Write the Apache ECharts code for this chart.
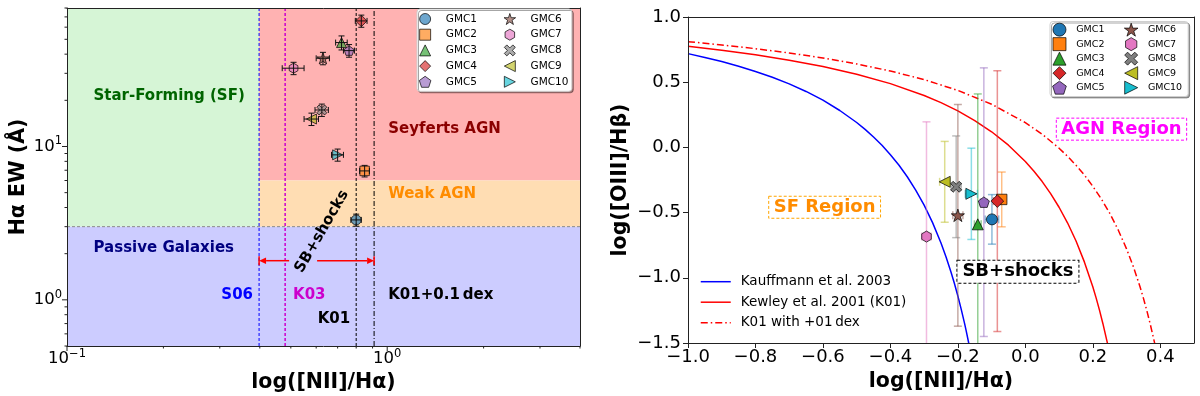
<!DOCTYPE html>
<html>
<head>
<meta charset="utf-8">
<script src="https://cdn.jsdelivr.net/npm/echarts@6.0.0/dist/echarts.min.js"></script>
<style>
html,body{margin:0;padding:0;background:#ffffff;}
#chart{width:1200px;height:396px;}
</style>
</head>
<body>
<div id="chart"></div>
<script>
// ================= DATA =================
const gmcNames = ['GMC1','GMC2','GMC3','GMC4','GMC5','GMC6','GMC7','GMC8','GMC9','GMC10'];

// Left panel (WHAN): [NII]/Ha ratio and Ha EW (Angstrom)
const niiHaRatio    = [0.80, 0.85, 0.72, 0.83, 0.76, 0.63, 0.51, 0.625, 0.58, 0.70];
const niiHaRatioErr = [0.03, 0.03, 0.03, 0.035, 0.03, 0.03, 0.04, 0.03, 0.03, 0.03];
const haEW          = [3.32, 6.93, 47.6, 65.9, 42.2, 37.6, 32.4, 17.3, 15.1, 8.82];
const haEWErr       = [0.30, 0.60, 5.0, 6.0, 4.0, 3.5, 3.0, 1.6, 1.4, 0.8];

// Right panel (BPT)
const logNiiHa     = [-0.099, -0.070, -0.141, -0.083, -0.123, -0.200, -0.293, -0.205, -0.239, -0.160];
const logNiiHaErr  = [0.020, 0.012, 0.010, 0.012, 0.010, 0.015, 0.014, 0.015, 0.015, 0.018];
const logOiiiHb    = [-0.552, -0.399, -0.590, -0.412, -0.420, -0.521, -0.684, -0.302, -0.264, -0.356];
const logOiiiHbErr = [0.19, 0.21, 1.00, 1.00, 1.03, 0.85, 0.88, 0.39, 0.31, 0.35];

// Demarcation curves (right panel)
const curveNames = ['Kauffmann et al. 2003', 'Kewley et al. 2001 (K01)', 'K01 with +01\u2009dex'];
const kauffmannX = [-1.0,-0.95,-0.9,-0.85,-0.8,-0.75,-0.7,-0.65,-0.6,-0.55,-0.5,-0.475,-0.45,-0.425,-0.4,-0.375,-0.35,-0.325,-0.3,-0.275,-0.25,-0.235,-0.22,-0.21,-0.2,-0.19,-0.18,-0.175,-0.168,-0.16];
const kauffmannY = [0.719,0.690,0.658,0.622,0.582,0.538,0.487,0.429,0.362,0.283,0.191,0.138,0.080,0.016,-0.056,-0.135,-0.225,-0.327,-0.443,-0.577,-0.733,-0.840,-0.959,-1.046,-1.140,-1.242,-1.352,-1.411,-1.498,-1.605];
const kewleyX = [-1.0,-0.9,-0.8,-0.7,-0.6,-0.5,-0.4,-0.3,-0.25,-0.2,-0.15,-0.1,-0.05,0.0,0.025,0.05,0.075,0.1,0.125,0.15,0.175,0.2,0.21,0.22,0.23,0.243,0.25];
const kewleyY = [0.775,0.745,0.710,0.669,0.620,0.561,0.489,0.398,0.343,0.280,0.206,0.120,0.017,-0.108,-0.181,-0.262,-0.354,-0.459,-0.578,-0.716,-0.878,-1.069,-1.156,-1.250,-1.352,-1.497,-1.583];
const kewleyDexX = [-1.0,-0.9,-0.8,-0.7,-0.6,-0.5,-0.4,-0.3,-0.2,-0.1,0.0,0.05,0.1,0.125,0.15,0.175,0.2,0.225,0.25,0.275,0.3,0.32,0.34,0.35,0.36,0.37,0.383,0.39];
const kewleyDexY = [0.811,0.786,0.757,0.724,0.686,0.640,0.586,0.520,0.437,0.331,0.190,0.101,-0.006,-0.068,-0.136,-0.212,-0.298,-0.394,-0.504,-0.631,-0.778,-0.913,-1.069,-1.156,-1.250,-1.352,-1.497,-1.583];

// WHAN boundaries (left panel): S06, K03, K01, K01+0.1dex in [NII]/Ha; EW cuts
const whanLineNii = [0.398, 0.48, 0.80, 0.91];
const whanEWCuts  = [3, 6];
const arrowStartNii = [0.494, 0.604];
const arrowEW = 1.8;

// Axis ranges and ticks
const leftXRange  = [0.1, 4];
const leftYRange  = [0.5, 80];
const rightXRange = [-1.0, 0.5];
const rightYRange = [-1.5, 1.0];
const leftXMajor = [0.1, 1];
const leftXMinor = [0.2,0.3,0.4,0.5,0.6,0.7,0.8,0.9,2,3,4];
const leftYMajor = [1, 10];
const leftYMinor = [0.5,0.6,0.7,0.8,0.9,2,3,4,5,6,7,8,9,20,30,40,50,60,70,80];
const rightXTicks = [-1.0,-0.8,-0.6,-0.4,-0.2,0.0,0.2,0.4];

// ================= STYLE =================
const FONT = 'DejaVu Sans';
const colors = ['#1f77b4','#ff7f0e','#2ca02c','#d62728','#9467bd','#8c564b','#e377c2','#7f7f7f','#bcbd22','#17becf'];
const SYM = [
  'path://M0,-1A1,1,0,1,1,0,1A1,1,0,1,1,0,-1Z',
  'path://M-1,-1L1,-1L1,1L-1,1Z',
  'path://M0,-1L1,1L-1,1Z',
  'path://M0,-1L1,0L0,1L-1,0Z',
  'path://M0,-1L0.951,-0.309L0.588,0.809L-0.588,0.809L-0.951,-0.309Z',
  'path://M0,-1L0.2245,-0.309L0.951,-0.309L0.363,0.118L0.588,0.809L0,0.382L-0.588,0.809L-0.363,0.118L-0.951,-0.309L-0.2245,-0.309Z',
  'path://M0,-1L0.866,-0.5L0.866,0.5L0,1L-0.866,0.5L-0.866,-0.5Z',
  'path://M-1,-0.55L-0.55,-1L0,-0.45L0.55,-1L1,-0.55L0.45,0L1,0.55L0.55,1L0,0.45L-0.55,1L-1,0.55L-0.45,0Z',
  'path://M-1,0L1,-1L1,1Z',
  'path://M1,0L-1,-1L-1,1Z'
];
const symScale = [1, 0.95, 1, 1.15, 1, 1.2, 1, 1, 1, 1];
const regionColors = ['#d6f5d6', '#ffb2b2', '#ffddb3', '#ccccff'];
const refLineStyles = [
  {stroke:'#0000ff', lineWidth:1, lineDash:[3,2]},
  {stroke:'#cc00cc', lineWidth:1.5, lineDash:[3,2]},
  {stroke:'#000000', lineWidth:1, lineDash:[3,2]},
  {stroke:'#000000', lineWidth:1, lineDash:[5,2,1,2]},
  {stroke:'#8a8a8a', lineWidth:1, lineDash:[3,2]}
];
function rgba(hex, a){ const n = parseInt(hex.slice(1),16); return 'rgba('+((n>>16)&255)+','+((n>>8)&255)+','+(n&255)+','+a+')'; }
function powLabel(v){
  const e = Math.log10(v); const n = Math.round(e);
  if (Math.abs(e-n) > 1e-6) return '';
  return '{b|10}{s|' + (n < 0 ? '\u2212' + (-n) : String(n)) + '}';
}
const powRich = {
  b:{fontFamily:FONT, fontSize:16.5, lineHeight:22, color:'#000'},
  s:{fontFamily:FONT, fontSize:11.5, lineHeight:11, verticalAlign:'top', color:'#000'}
};
function decLabel(v){ const s = Math.abs(v).toFixed(1); return (v < -1e-9 ? '\u2212' : '') + s; }
const axisLine = {show:true, onZero:false, lineStyle:{color:'#222', width:1}};
const nameStyle = {fontFamily:FONT, fontSize:20.5, fontWeight:'bold', color:'#000'};

// ================= AXES =================
const xAxis = [
  {type:'log', logBase:10, gridIndex:0, min:leftXRange[0], max:leftXRange[1], position:'bottom', z:10,
   name:'log([NII]/H\u03b1)', nameLocation:'middle', nameGap:24, nameTextStyle:nameStyle,
   axisLine:axisLine, axisTick:{show:false}, splitLine:{show:false}, minorTick:{show:false},
   axisLabel:{margin:2, formatter:powLabel, rich:powRich}},
  {type:'log', logBase:10, gridIndex:0, min:leftXRange[0], max:leftXRange[1], position:'top', z:10,
   axisLine:axisLine, axisTick:{show:false}, axisLabel:{show:false}, splitLine:{show:false}},
  {type:'value', gridIndex:1, min:rightXRange[0], max:rightXRange[1], interval:0.2, position:'bottom', z:10,
   name:'log([NII]/H\u03b1)', nameLocation:'middle', nameGap:26, nameTextStyle:nameStyle,
   axisLine:axisLine, splitLine:{show:false},
   axisTick:{show:true, length:5, customValues:rightXTicks, lineStyle:{color:'#222'}},
   axisLabel:{margin:5, customValues:rightXTicks, formatter:decLabel, fontFamily:FONT, fontSize:18, color:'#000'}},
  {type:'value', gridIndex:1, min:rightXRange[0], max:rightXRange[1], position:'top', z:10,
   axisLine:axisLine, axisTick:{show:false}, axisLabel:{show:false}, splitLine:{show:false}}
];
const yAxis = [
  {type:'log', logBase:10, gridIndex:0, min:leftYRange[0], max:leftYRange[1], position:'left', z:10,
   name:'H\u03b1 EW (\u00c5)', nameLocation:'middle', nameGap:38, nameTextStyle:nameStyle,
   axisLine:axisLine, axisTick:{show:false}, splitLine:{show:false}, minorTick:{show:false},
   axisLabel:{margin:5, formatter:powLabel, rich:powRich}},
  {type:'log', logBase:10, gridIndex:0, min:leftYRange[0], max:leftYRange[1], position:'right', z:10,
   axisLine:axisLine, axisTick:{show:false}, axisLabel:{show:false}, splitLine:{show:false}},
  {type:'value', gridIndex:1, min:rightYRange[0], max:rightYRange[1], interval:0.5, position:'left', z:10,
   name:'log([OIII]/H\u03b2)', nameLocation:'middle', nameGap:57, nameTextStyle:nameStyle,
   axisLine:axisLine, splitLine:{show:false},
   axisTick:{show:true, length:5, lineStyle:{color:'#222'}},
   axisLabel:{margin:7, formatter:decLabel, fontFamily:FONT, fontSize:18, color:'#000'}},
  {type:'value', gridIndex:1, min:rightYRange[0], max:rightYRange[1], position:'right', z:10,
   axisLine:axisLine, axisTick:{show:false}, axisLabel:{show:false}, splitLine:{show:false}}
];

// ================= SERIES =================
const series = [];

// --- Left: region fills ---
const regionBounds = [
  [leftXRange[0], whanLineNii[0], whanEWCuts[0], leftYRange[1]],
  [whanLineNii[0], leftXRange[1], whanEWCuts[1], leftYRange[1]],
  [whanLineNii[0], leftXRange[1], whanEWCuts[0], whanEWCuts[1]],
  [leftXRange[0], leftXRange[1], leftYRange[0], whanEWCuts[0]]
];
series.push({type:'custom', xAxisIndex:0, yAxisIndex:0, z:1, silent:true, clip:false,
  encode:{x:[0,1], y:[2,3]}, data:regionBounds,
  renderItem:function(params, api){
    const a = api.coord([api.value(0), api.value(3)]);
    const b = api.coord([api.value(1), api.value(2)]);
    return {type:'rect', shape:{x:a[0], y:a[1], width:b[0]-a[0], height:b[1]-a[1]}, style:{fill:regionColors[params.dataIndex]}};
  }});

// --- Left: reference lines ---
const refLines = whanLineNii.map(function(x){ return [x, leftYRange[0], x, leftYRange[1]]; })
  .concat([[leftXRange[0], whanEWCuts[0], leftXRange[1], whanEWCuts[0]]]);
series.push({type:'custom', xAxisIndex:0, yAxisIndex:0, z:2, silent:true, clip:false,
  encode:{x:[0,2], y:[1,3]}, data:refLines,
  renderItem:function(params, api){
    const a = api.coord([api.value(0), api.value(1)]);
    const b = api.coord([api.value(2), api.value(3)]);
    return {type:'line', shape:{x1:a[0], y1:a[1], x2:b[0], y2:b[1]}, style:refLineStyles[params.dataIndex]};
  }});

// --- Left: arrows ---
series.push({type:'custom', xAxisIndex:0, yAxisIndex:0, z:3, silent:true, clip:false,
  encode:{x:[0,1], y:2},
  data:[[arrowStartNii[0], whanLineNii[0], arrowEW],[arrowStartNii[1], whanLineNii[3], arrowEW]],
  renderItem:function(params, api){
    const p0 = api.coord([api.value(0), api.value(2)]);
    const p1 = api.coord([api.value(1), api.value(2)]);
    const d = p1[0] > p0[0] ? 1 : -1; const L = 7, W = 3.2, y = p1[1];
    const st = {stroke:'#ff0000', lineWidth:1.5};
    return {type:'group', children:[
      {type:'line', shape:{x1:p0[0], y1:y, x2:p1[0]-d*L, y2:y}, style:st},
      {type:'polygon', shape:{points:[[p1[0],y],[p1[0]-d*L,y-W],[p1[0]-d*L,y+W]]}, style:{fill:'#ff0000'}},
      {type:'line', shape:{x1:p1[0], y1:y-4.5, x2:p1[0], y2:y+4.5}, style:st}
    ]};
  }});

// --- Left: markers ---
gmcNames.forEach(function(n, i){
  series.push({type:'scatter', name:'L-'+n, xAxisIndex:0, yAxisIndex:0, z:4, silent:true,
    symbol:SYM[i], symbolSize:10*symScale[i], symbolKeepAspect:true,
    data:[[niiHaRatio[i], haEW[i]]],
    itemStyle:{color:rgba(colors[i],0.65), borderColor:'#000', borderWidth:0.7, opacity:1}});
});

// --- Left: error bars ---
series.push({type:'custom', xAxisIndex:0, yAxisIndex:0, z:5, silent:true, clip:false,
  data:niiHaRatio.map(function(x,i){ return [x, haEW[i], niiHaRatioErr[i], haEWErr[i]]; }),
  renderItem:function(params, api){
    const x = api.value(0), y = api.value(1), ex = api.value(2), ey = api.value(3);
    const t = api.coord([x, y+ey]), b = api.coord([x, y-ey]), l = api.coord([x-ex, y]), r = api.coord([x+ex, y]);
    const c = 3, st = {stroke:'#111', lineWidth:1};
    return {type:'group', children:[
      {type:'line', shape:{x1:t[0],y1:t[1],x2:b[0],y2:b[1]}, style:st},
      {type:'line', shape:{x1:t[0]-c,y1:t[1],x2:t[0]+c,y2:t[1]}, style:st},
      {type:'line', shape:{x1:b[0]-c,y1:b[1],x2:b[0]+c,y2:b[1]}, style:st},
      {type:'line', shape:{x1:l[0],y1:l[1],x2:r[0],y2:r[1]}, style:st},
      {type:'line', shape:{x1:l[0],y1:l[1]-c,x2:l[0],y2:l[1]+c}, style:st},
      {type:'line', shape:{x1:r[0],y1:r[1]-c,x2:r[0],y2:r[1]+c}, style:st}
    ]};
  }});

// --- Left: annotations ---
series.push({type:'scatter', xAxisIndex:0, yAxisIndex:0, z:6, silent:true, symbolSize:1,
  itemStyle:{color:'rgba(0,0,0,0)', opacity:1},
  label:{show:true, position:'inside', fontFamily:FONT, fontSize:15, fontWeight:'bold', opacity:1, textBorderWidth:0},
  data:[
    {value:[0.121, 21.4], label:{formatter:'Star-Forming (SF)', color:'#006400', align:'left'}},
    {value:[1.007, 12.97], label:{formatter:'Seyferts AGN', color:'#8b0000', align:'left'}},
    {value:[1.007, 4.91], label:{formatter:'Weak AGN', color:'#ff8c00', align:'left'}},
    {value:[0.121, 2.17], label:{formatter:'Passive Galaxies', color:'#000080', align:'left'}},
    {value:[0.381, 1.08], label:{formatter:'S06', color:'#0000ff', align:'right'}},
    {value:[0.508, 1.08], label:{formatter:'K03', color:'#cc00cc', align:'left'}},
    {value:[0.766, 0.75], label:{formatter:'K01', color:'#000', align:'right'}},
    {value:[1.007, 1.08], label:{formatter:'K01+0.1\u2009dex', color:'#000', align:'left'}},
    {value:[0.625, 2.79], label:{formatter:'SB+shocks', color:'#000', rotate:60}}
  ]});

// --- Left: log-axis ticks ---
const tickItems = []
  .concat(leftXMajor.map(function(v){ return [v, leftYRange[0], 1, 0]; }))
  .concat(leftXMinor.map(function(v){ return [v, leftYRange[0], 0, 0]; }))
  .concat(leftYMajor.map(function(v){ return [leftXRange[0], v, 1, 1]; }))
  .concat(leftYMinor.map(function(v){ return [leftXRange[0], v, 0, 1]; }));
series.push({type:'custom', xAxisIndex:0, yAxisIndex:0, z:11, silent:true, clip:false,
  data:tickItems,
  renderItem:function(params, api){
    const p = api.coord([api.value(0), api.value(1)]);
    const len = api.value(2) === 1 ? 5 : 2.5;
    const isY = api.value(3) === 1;
    return {type:'line', shape: isY ? {x1:p[0], y1:p[1], x2:p[0]-len, y2:p[1]} : {x1:p[0], y1:p[1], x2:p[0], y2:p[1]+len},
      style:{stroke:'#222', lineWidth:1}};
  }});

// --- Right: demarcation curves ---
const curveData = [
  kauffmannX.map(function(x,i){ return [x, kauffmannY[i]]; }),
  kewleyX.map(function(x,i){ return [x, kewleyY[i]]; }),
  kewleyDexX.map(function(x,i){ return [x, kewleyDexY[i]]; })
];
const curveStyles = [
  {color:'#0000ff', width:1.5, type:'solid'},
  {color:'#ff0000', width:1.5, type:'solid'},
  {color:'#ff0000', width:1.5, type:[7,3,1.5,3]}
];
curveNames.forEach(function(n, i){
  series.push({type:'line', name:n, xAxisIndex:2, yAxisIndex:2, z:2, silent:true, symbol:'none', showSymbol:false,
    data:curveData[i], lineStyle:curveStyles[i], itemStyle:{color:curveStyles[i].color}, clip:true});
});

// --- Right: error bars ---
series.push({type:'custom', xAxisIndex:2, yAxisIndex:2, z:3, silent:true, clip:true,
  data:logNiiHa.map(function(x,i){ return [x, logOiiiHb[i], logNiiHaErr[i], logOiiiHbErr[i]]; }),
  renderItem:function(params, api){
    const x = api.value(0), y = api.value(1), ex = api.value(2), ey = api.value(3);
    const t = api.coord([x, y+ey]), b = api.coord([x, y-ey]), l = api.coord([x-ex, y]), r = api.coord([x+ex, y]);
    const c = 4, st = {stroke:rgba(colors[params.dataIndex],0.5), lineWidth:1.5};
    return {type:'group', children:[
      {type:'line', shape:{x1:t[0],y1:t[1],x2:b[0],y2:b[1]}, style:st},
      {type:'line', shape:{x1:t[0]-c,y1:t[1],x2:t[0]+c,y2:t[1]}, style:st},
      {type:'line', shape:{x1:b[0]-c,y1:b[1],x2:b[0]+c,y2:b[1]}, style:st},
      {type:'line', shape:{x1:l[0],y1:l[1],x2:r[0],y2:r[1]}, style:st},
      {type:'line', shape:{x1:l[0],y1:l[1]-c,x2:l[0],y2:l[1]+c}, style:st},
      {type:'line', shape:{x1:r[0],y1:r[1]-c,x2:r[0],y2:r[1]+c}, style:st}
    ]};
  }});

// --- Right: markers ---
gmcNames.forEach(function(n, i){
  series.push({type:'scatter', name:n, xAxisIndex:2, yAxisIndex:2, z:4, silent:true,
    symbol:SYM[i], symbolSize:11*symScale[i], symbolKeepAspect:true,
    data:[[logNiiHa[i], logOiiiHb[i]]],
    itemStyle:{color:colors[i], borderColor:'#000', borderWidth:0.7, opacity:1}});
});

// --- Right: annotations ---
series.push({type:'scatter', xAxisIndex:2, yAxisIndex:2, z:8, silent:true, symbolSize:1,
  itemStyle:{color:'rgba(0,0,0,0)', opacity:1},
  label:{show:true, position:'inside', fontFamily:FONT, fontSize:18, fontWeight:'bold', opacity:1, textBorderWidth:0,
    padding:[3,5,1,5], borderWidth:1, borderType:[3,2]},
  data:[
    {value:[-0.595, -0.459], label:{formatter:'SF Region', color:'#ff8c00', borderColor:'#ffa500'}},
    {value:[0.285, 0.14], label:{formatter:'AGN Region', color:'#ff00ff', borderColor:'#ff00ff'}},
    {value:[-0.022, -0.953], label:{formatter:'SB+shocks', color:'#000', borderColor:'#000', backgroundColor:'#fff'}}
  ]});

// ================= LEGENDS =================
const legendBox = {backgroundColor:'#fff', borderColor:'#cfcfcf', borderWidth:1, borderRadius:3,
  shadowColor:'rgba(0,0,0,0.35)', shadowBlur:0, shadowOffsetX:1.5, shadowOffsetY:1.5};
const legendIconStyle = {borderColor:'#000', borderWidth:0.7};
const legend = [
  Object.assign({data:gmcNames.slice(0,5).map(function(n){return 'L-'+n;}), orient:'vertical', left:417, top:9,
    padding:[3.5,86,3,2], itemWidth:24, itemHeight:11, itemGap:2.7, selectedMode:false, z:20,
    formatter:function(n){return n.slice(2);}, itemStyle:legendIconStyle,
    textStyle:{fontFamily:FONT, fontSize:10.5, color:'#000', lineHeight:13, padding:[0,0,0,3.7], width:40}}, legendBox),
  {data:gmcNames.slice(5).map(function(n){return 'L-'+n;}), orient:'vertical', left:503.7, top:12.5,
    padding:0, itemWidth:24, itemHeight:11, itemGap:2.7, selectedMode:false, z:21,
    formatter:function(n){return n.slice(2);}, itemStyle:legendIconStyle,
    textStyle:{fontFamily:FONT, fontSize:10.5, color:'#000', lineHeight:13, padding:[0,0,0,3.7], width:40}},
  Object.assign({data:gmcNames.slice(0,5), orient:'vertical', left:1050, top:21.5,
    padding:[1.3,76,2,2.3], itemWidth:22, itemHeight:13, itemGap:0.8, selectedMode:false, z:20,
    itemStyle:legendIconStyle,
    textStyle:{fontFamily:FONT, fontSize:9.5, color:'#000', lineHeight:13, padding:[0,0,0,0.7], width:36}}, legendBox),
  {data:gmcNames.slice(5), orient:'vertical', left:1124, top:22.8,
    padding:0, itemWidth:22, itemHeight:13, itemGap:0.8, selectedMode:false, z:21,
    itemStyle:legendIconStyle,
    textStyle:{fontFamily:FONT, fontSize:9.5, color:'#000', lineHeight:13, padding:[0,0,0,0.7], width:36}},
  {data:curveNames, orient:'vertical', left:700, top:274.7, padding:0, itemWidth:30, itemHeight:14, itemGap:6.5,
    selectedMode:false, z:20, lineStyle:{width:1.5}, itemStyle:{opacity:0, borderWidth:0},
    textStyle:{fontFamily:FONT, fontSize:13.5, color:'#000', lineHeight:14, padding:[0,0,0,5]}}
];

const option = {
  animation:false,
  backgroundColor:'#ffffff',
  textStyle:{fontFamily:FONT},
  grid:[
    {left:67, top:8, width:513, height:338, containLabel:false, outerBoundsMode:'none'},
    {left:688, top:17, width:506, height:326, containLabel:false, outerBoundsMode:'none'}
  ],
  xAxis:xAxis, yAxis:yAxis, legend:legend, series:series
};
const chart = echarts.init(document.getElementById('chart'), null, {renderer:'canvas'});
chart.setOption(option);
</script>
</body>
</html>
